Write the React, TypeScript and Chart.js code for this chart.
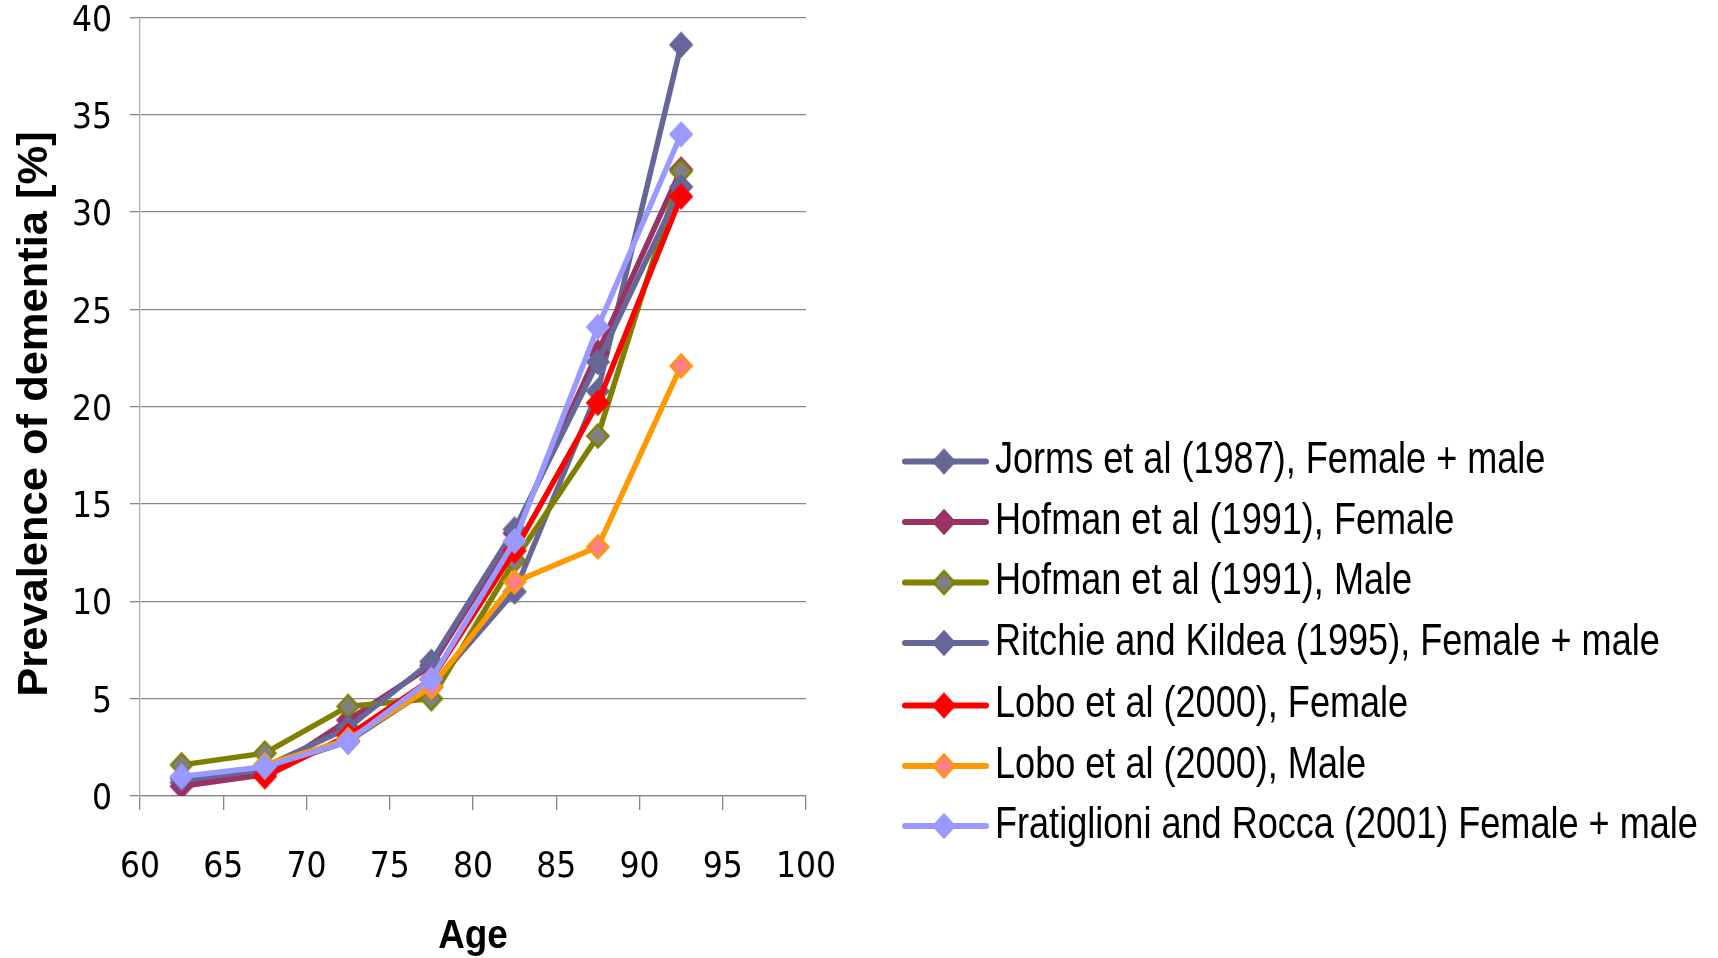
import React, { useEffect, useRef } from "react";
import { Chart, registerables } from "chart.js";

Chart.register(...registerables);

// ---- Data ----
const ages = [62.5, 67.5, 72.5, 77.5, 82.5, 87.5, 92.5];

const seriesNames = [
  "Jorms et al (1987), Female + male",
  "Hofman et al (1991), Female",
  "Hofman et al (1991), Male",
  "Ritchie and Kildea (1995), Female + male",
  "Lobo et al (2000), Female",
  "Lobo et al (2000), Male",
  "Fratiglioni and Rocca (2001) Female + male",
];

const jorms = [0.7, 1.4, 2.8, 5.6, 10.5, 20.8, 38.6];
const hofmanFemale = [0.5, 1.1, 3.9, 6.7, 13.5, 22.8, 32.2];
const hofmanMale = [1.6, 2.2, 4.6, 5.0, 12.1, 18.5, 32.1];
const ritchie = [0.9, 1.5, 3.5, 6.9, 13.7, 22.3, 31.3];
const loboFemale = [null, 1.0, 3.1, 6.0, 12.6, 20.2, 30.8];
const loboMale = [null, 1.6, 2.9, 5.6, 11.0, 12.8, 22.1];
const fratiglioni = [1.0, 1.5, 2.8, 6.0, 13.1, 24.1, 34.0];

const seriesValues = [jorms, hofmanFemale, hofmanMale, ritchie, loboFemale, loboMale, fratiglioni];

const lineColors = ["#666699", "#993366", "#808000", "#666699", "#FF0000", "#FF9900", "#9999FF"];
const markerFills = ["#666699", "#993366", "#808080", "#666699", "#FF0000", "#FF8080", "#9999FF"];

const xTickMin = 60;
const xTickMax = 100;
const xTickStep = 5;
const yTickMin = 0;
const yTickMax = 40;
const yTickStep = 5;

const xTitle = "Age";
const yTitle = "Prevalence of dementia [%]";

// ---- Styles ----
const SANS = "'Liberation Sans', Arial, sans-serif";
const TICKFONT = "'DejaVu Sans Condensed', 'DejaVu Sans', sans-serif";
const GRID = "#868686";

const legendLayout = {
  lineX0: 905,
  lineX1: 986,
  markerX: 944,
  textX: 995,
  rowsY: [461.5, 522, 582.5, 643, 705.5, 766, 826],
  fontSize: 44,
  textScaleX: 0.82,
  textBaselineOffset: 11.5,
};

function makeDiamond(fill: string, stroke: string, w: number, h: number, bw: number) {
  const c = document.createElement("canvas");
  c.width = Math.ceil(w + bw * 2);
  c.height = Math.ceil(h + bw * 2);
  const ctx = c.getContext("2d")!;
  const cx = c.width / 2;
  const cy = c.height / 2;
  ctx.beginPath();
  ctx.moveTo(cx, cy - h / 2);
  ctx.lineTo(cx + w / 2, cy);
  ctx.lineTo(cx, cy + h / 2);
  ctx.lineTo(cx - w / 2, cy);
  ctx.closePath();
  ctx.fillStyle = fill;
  ctx.fill();
  ctx.lineWidth = bw;
  ctx.strokeStyle = stroke;
  ctx.lineJoin = "miter";
  ctx.stroke();
  return c;
}

const overlayPlugin = {
  id: "overlayText",
  afterDraw(chart: any) {
    const ctx = chart.ctx as CanvasRenderingContext2D;
    const area = chart.chartArea;
    ctx.save();
    // legend
    chart.data.datasets.forEach((ds: any, i: number) => {
      const y = legendLayout.rowsY[i];
      ctx.strokeStyle = ds.borderColor;
      ctx.lineWidth = 6;
      ctx.lineCap = "round";
      ctx.beginPath();
      ctx.moveTo(legendLayout.lineX0, y);
      ctx.lineTo(legendLayout.lineX1, y);
      ctx.stroke();
      const img = ds.pointStyle as HTMLCanvasElement;
      ctx.drawImage(img, legendLayout.markerX - img.width / 2, y - img.height / 2);
      ctx.save();
      ctx.fillStyle = "#000";
      ctx.font = `${legendLayout.fontSize}px ${SANS}`;
      ctx.textBaseline = "alphabetic";
      ctx.textAlign = "left";
      ctx.translate(legendLayout.textX, y + legendLayout.textBaselineOffset);
      ctx.scale(legendLayout.textScaleX, 1);
      ctx.fillText(ds.label, 0, 0);
      ctx.restore();
    });
    // y title
    ctx.save();
    ctx.fillStyle = "#000";
    ctx.font = `bold 42px ${SANS}`;
    ctx.textAlign = "center";
    ctx.textBaseline = "alphabetic";
    ctx.translate(47, 414);
    ctx.rotate(-Math.PI / 2);
    ctx.scale(1.035, 1);
    ctx.fillText(yTitle, 0, 0);
    ctx.restore();
    // x title
    ctx.save();
    ctx.fillStyle = "#000";
    ctx.font = `bold 41px ${SANS}`;
    ctx.textAlign = "center";
    ctx.textBaseline = "alphabetic";
    ctx.translate((area.left + area.right) / 2, 948);
    ctx.scale(0.9, 1);
    ctx.fillText(xTitle, 0, 0);
    ctx.restore();
    ctx.restore();
  },
};

export default function App() {
  const canvasRef = useRef<HTMLCanvasElement | null>(null);

  useEffect(() => {
    const canvas = canvasRef.current;
    if (!canvas) return;
    const n = seriesNames.length;
    const datasets = seriesNames.map((name, i) => {
      const marker = makeDiamond(markerFills[i], lineColors[i], 21, 23, 2.5);
      return {
        label: name,
        data: ages.map((a, j) => ({ x: a, y: seriesValues[i][j] })),
        borderColor: lineColors[i],
        backgroundColor: markerFills[i],
        pointBackgroundColor: markerFills[i],
        pointBorderColor: lineColors[i],
        pointStyle: marker,
        pointRadius: 12,
        borderWidth: 5.5,
        tension: 0,
        order: n - 1 - i,
        spanGaps: false,
      };
    });

    const chart = new Chart(canvas, {
      type: "line",
      data: { datasets },
      plugins: [overlayPlugin],
      options: {
        responsive: false,
        animation: false,
        devicePixelRatio: 1,
        layout: { padding: { left: 0, right: 912, top: 17, bottom: 0 } },
        plugins: { legend: { display: false }, tooltip: { enabled: false } },
        scales: {
          x: {
            type: "linear",
            min: xTickMin,
            max: xTickMax,
            ticks: {
              stepSize: xTickStep,
              color: "#000",
              font: { family: TICKFONT, size: 35 },
              padding: 37,
              maxRotation: 0,
            },
            grid: {
              drawOnChartArea: false,
              drawTicks: true,
              tickLength: 14,
              color: GRID,
              lineWidth: 1.3,
            },
            border: { color: GRID, width: 1.3 },
            afterFit: (s: any) => {
              s.height = 162;
              s.paddingLeft = 0;
              s.paddingRight = 0;
            },
          },
          y: {
            min: yTickMin,
            max: yTickMax,
            ticks: {
              stepSize: yTickStep,
              color: "#000",
              font: { family: TICKFONT, size: 35 },
              padding: 18,
              labelOffset: 4,
            },
            grid: {
              color: GRID,
              lineWidth: 1.3,
              tickLength: 10,
              drawTicks: true,
            },
            border: { color: "#b0b0b0", width: 1.3 },
            afterFit: (s: any) => {
              s.width = 140;
              s.paddingTop = 0;
              s.paddingBottom = 0;
            },
          },
        },
      } as any,
    });
    return () => chart.destroy();
  }, []);

  return (
    <div style={{ position: "fixed", left: 0, top: 0, width: 1718, height: 958, background: "#fff" }}>
      <canvas ref={canvasRef} width={1718} height={958} style={{ display: "block" }} />
    </div>
  );
}
